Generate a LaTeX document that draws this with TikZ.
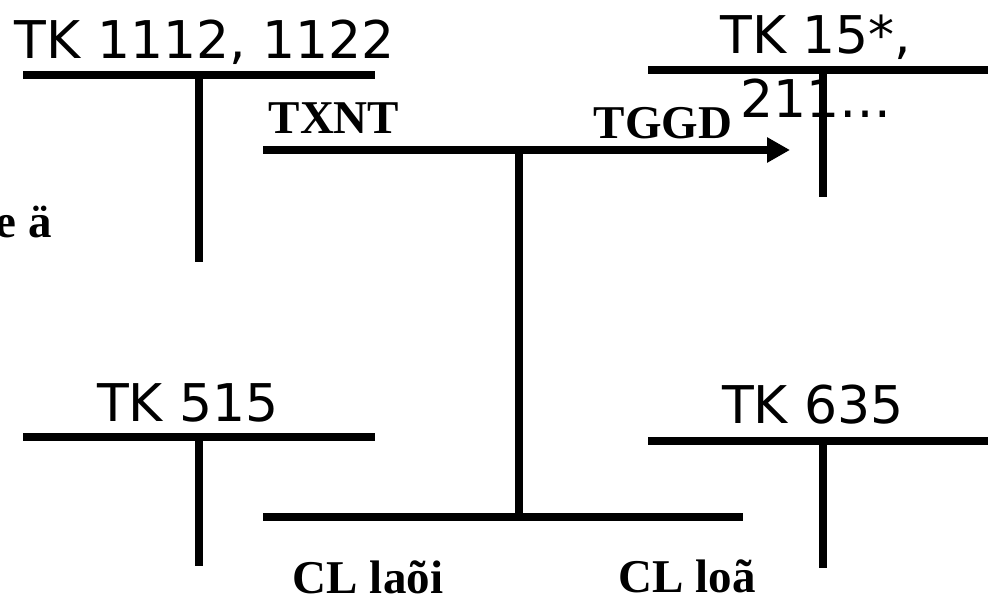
\documentclass[tikz,border=0pt]{standalone}
\usepackage{fontspec}
\setmainfont{Liberation Serif}
\newfontfamily\tkfont{DejaVu Sans}
\usetikzlibrary{positioning,arrows.meta}
\tikzstyle{acct} = [font=\tkfont\fontsize{52}{64}\selectfont,
                    inner sep=0pt,
                    align=center,
                    anchor=base]
\tikzstyle{flow} = [font=\bfseries\fontsize{47}{52}\selectfont,
                    inner sep=0pt,
                    anchor=base]
\tikzstyle{bar} = [line width=8pt]

\begin{document}
\begin{tikzpicture}[x=1pt,y=-1pt]
\useasboundingbox (0,0) rectangle (988,597);
% T accounts
\coordinate (t1l) at (23,75);   \coordinate (t1r) at (375,75);
\coordinate (t1t) at (199,75);  \coordinate (t1b) at (199,262);
\coordinate (t2l) at (648,70);  \coordinate (t2r) at (988,70);
\coordinate (t2t) at (823,70);  \coordinate (t2b) at (823,197);
\coordinate (t3l) at (23,437);  \coordinate (t3r) at (375,437);
\coordinate (t3t) at (199,437); \coordinate (t3b) at (199,566);
\coordinate (t4l) at (648,441); \coordinate (t4r) at (988,441);
\coordinate (t4t) at (823,441); \coordinate (t4b) at (823,568);
% flows
\coordinate (in) at (263,150);  \coordinate (out) at (790,150);
\coordinate (mt) at (519,150);  \coordinate (mb) at (519,517);
\coordinate (bl) at (263,517);  \coordinate (br) at (743,517);

\node (k1) [acct] at (205,58) {TK 1112, 1122};
\node (k2) [acct] at (816,117) {TK 15*,\\211…};
\node (k3) [acct] at (188,421) {TK 515};
\node (k4) [acct] at (813,423) {TK 635};

\node (txnt) [flow] at (334,133) {TXNT};
\node (tggd) [flow] at (663,138) {TGGD};
\node (ea) [flow, anchor=base east] at (52,237) {e ä};
\node (cl1) [flow] at (368,593) {CL laõi};
\node (cl2) [flow] at (687,592) {CL loã};

\foreach \t in {t1,t2,t3,t4} {
  \draw [bar] (\t l) -- (\t r);
  \draw [bar] (\t t) -- (\t b);
}
\draw [bar, -{Triangle[length=23pt,width=24pt]}] (in) -- (out);
\draw [bar] (mt) -- (mb);
\draw [bar] (bl) -- (br);
\end{tikzpicture}
\end{document}
